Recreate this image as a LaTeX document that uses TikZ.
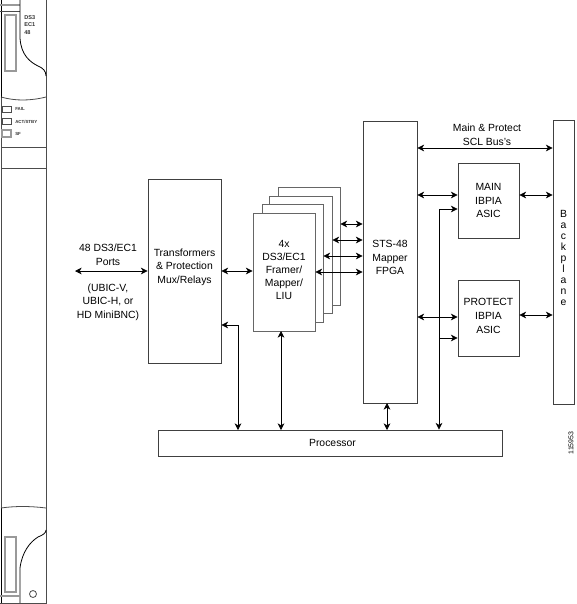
\documentclass[tikz,border=0pt]{standalone}
\usepackage{fontspec}
\setmainfont{Liberation Sans}
\usetikzlibrary{arrows.meta}
\tikzset{
  wh/.style 2 args={minimum width=#1*0.75pt,minimum height=#2*0.75pt},
  box/.style={draw=black!75,line width=0.7pt,fill=white,inner sep=0pt,align=center,font=\fontsize{7.8}{10.2}\selectfont},
  stackbox/.style={box,draw=black!60,line width=0.7pt},
  lbl/.style={inner sep=0pt,align=center,font=\fontsize{7.8}{10.2}\selectfont},
  tiny/.style={inner sep=0pt,anchor=west,font=\fontsize{3.3}{4}\bfseries\selectfont,text=black!80},
  small/.style={inner sep=0pt,anchor=west,font=\fontsize{4.2}{5}\bfseries\selectfont,text=black!80},
  plate/.style={draw=black!70,line width=0.6pt},
  graypl/.style={draw=black!40,line width=0.8pt},
  conn/.style={draw=black,line width=0.55pt,{Stealth[length=5pt,width=5pt,inset=1.5pt]}-{Stealth[length=5pt,width=5pt,inset=1.5pt]}},
  oneway/.style={draw=black,line width=0.55pt,-{Stealth[length=5pt,width=5pt,inset=1.5pt]}}
}
\begin{document}
\begin{tikzpicture}[x=0.75pt,y=-0.75pt]
\useasboundingbox (0,0) rectangle (576,604);
\fill[white] (0,0) rectangle (576,604);
% faceplate
\draw[plate] (46,0) -- (46,604);
\draw[plate] (1,98) -- (1,508);
\draw[draw=black,line width=0.7pt] (1,0) -- (1,98);
\draw[draw=black,line width=0.7pt] (1,508) -- (1,604);
\draw[graypl] (0,5) -- (20,5);
\draw[plate] (0,11) -- (20,11);
\draw[draw=black,line width=0.6pt] (20,0) -- (20,38) .. controls (21,55) and (30,62) .. (38,66) .. controls (43,68) and (46,71) .. (46,76);
\draw[graypl] (5,15) rectangle (16,71);
\draw[plate] (1,97) .. controls (15,101) and (30,101) .. (46,97);
\draw[plate] (2,106) rectangle (11,112);
\draw[plate] (2,118) rectangle (11,124);
\draw[graypl] (2,130) rectangle (11,137);
\draw[plate] (1,147) -- (46,147);
\draw[plate] (1,168) -- (46,168);
\draw[plate] (1,508) .. controls (15,506) and (30,506) .. (46,508);
\draw[graypl] (5,537) rectangle (16,592);
\draw[draw=black,line width=0.6pt] (20,604) -- (20,568) .. controls (22,552) and (30,542) .. (38,537) .. controls (43,535) and (46,533) .. (46,530);
\draw[graypl] (0,596) -- (20,596);
\draw[plate] (0,603) -- (46,603);
\draw[plate] (33,594) circle (3.5);
\node[small] (t1) at (24,18) {DS3};
\node[small] (t2) at (24,25) {EC1};
\node[small] (t3) at (24,33) {48};
\node[tiny] (l1) at (15,109) {FAIL};
\node[tiny] (l2) at (15,122) {ACT/STBY};
\node[tiny] (l3) at (15,134) {SF};
% boxes
\node[box,wh={73}{184}] (trans) at (184.5,271) {};
\node[lbl] (transt) at (184.5,267) {Transformers\\\& Protection\\Mux/Relays};
\node[stackbox,wh={62}{118}] (fr4) at (309,246) {};
\node[stackbox,wh={63}{117}] (fr3) at (300.5,254.5) {};
\node[stackbox,wh={61}{118}] (fr2) at (292.5,263) {};
\node[stackbox,wh={62}{118}] (fr1) at (284,272) {};
\node[lbl,font=\fontsize{7.8}{9.9}\selectfont] (frt) at (284,270) {4x\\DS3/EC1\\Framer/\\Mapper/\\LIU};
\node[box,wh={54}{282}] (sts) at (390,262) {};
\node[lbl] (stst) at (390,257.5) {STS-48\\Mapper\\FPGA};
\node[box,wh={61}{75}] (main) at (488.5,200.5) {MAIN\\IBPIA\\ASIC};
\node[box,wh={61}{76}] (prot) at (488.5,318) {};
\node[lbl] (prott) at (488.5,316) {PROTECT\\IBPIA\\ASIC};
\node[box,wh={21}{284}] (back) at (563.5,262) {};
\node[lbl,font=\fontsize{7.8}{8.25}\selectfont] (backt) at (563.5,257.5) {B\\a\\c\\k\\p\\l\\a\\n\\e};
\node[box,wh={344}{26}] (proc) at (330,443) {};
\node[lbl] (proct) at (332.5,443) {Processor};
% free labels
\node[lbl] (ports) at (108,255) {48 DS3/EC1\\Ports};
\node[lbl] (ubic) at (108,302) {(UBIC-V,\\UBIC-H, or\\HD MiniBNC)};
\node[lbl] (scl) at (487,134.5) {Main \& Protect\\SCL Bus's};
\node[inner sep=0pt,rotate=90,font=\fontsize{5.2}{6}\selectfont] (num) at (571,443) {115953};
\coordinate (portend) at (75,271);
\coordinate (busl) at (439,209);
\coordinate (busm) at (439,338);
% connectors
\draw[conn] (portend) -- (trans.west |- portend);
\draw[conn] (trans.east |- 0,271) -- (fr1.west |- 0,271);
\draw[conn] (fr4.east |- 0,224) -- (sts.west |- 0,224);
\draw[conn] (fr3.east |- 0,240) -- (sts.west |- 0,240);
\draw[conn] (fr2.east |- 0,256) -- (sts.west |- 0,256);
\draw[conn] (fr1.east |- 0,272) -- (sts.west |- 0,272);
\draw[conn] (sts.east |- 0,148) -- (back.west |- 0,148);
\draw[conn] (sts.east |- 0,195) -- (main.west |- 0,195);
\draw[conn] (main.east |- 0,195) -- (back.west |- 0,195);
\draw[conn] (sts.east |- 0,317) -- (prot.west |- 0,317);
\draw[conn] (prot.east |- 0,315) -- (back.west |- 0,315);
\draw[oneway] (busl) -- (main.west |- busl);
\draw[oneway] (busm) -- (prot.west |- busm);
\draw[oneway] (busl) -- (busl |- proc.north);
\draw[conn] (trans.east |- 0,325) -- (238,325) -- (238,430);
\draw[conn] (281,331) -- (281,430);
\draw[conn] (387,403) -- (387,430);
\end{tikzpicture}
\end{document}
